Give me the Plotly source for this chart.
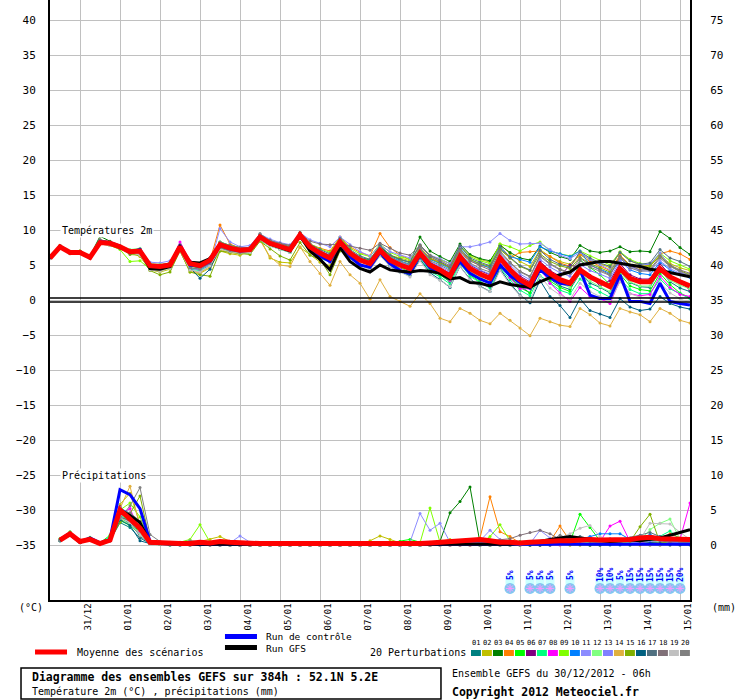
import pandas as pd
import plotly.graph_objects as go

# GEFS run of 30/12/2012 06h, 6-hourly steps up to 384h
run_start = pd.Timestamp("2012-12-30 06:00")
t_times = pd.date_range(run_start, periods=65, freq="6h")
p_times = t_times[1:]
day_ticks = pd.date_range("2012-12-31", "2013-01-15", freq="D")

# --- temperatures 2m (degC) ---
t_mean = [6.0, 7.6, 6.8, 6.8, 6.1, 8.2, 8.1, 7.6, 6.9, 7.0, 4.9, 4.8, 5.0, 7.6, 5.2, 4.9, 5.7, 7.9, 7.4, 7.1,
          7.2, 9.0, 8.1, 7.6, 7.2, 9.3, 7.6, 6.7, 6.0, 8.3, 6.7, 5.7, 5.2, 7.1, 5.7, 5.0, 4.5, 6.7, 5.0, 4.3,
          3.4, 6.2, 4.5, 3.7, 3.1, 6.0, 4.3, 2.9, 2.1, 5.0, 3.8, 2.9, 2.4, 4.3, 3.3, 2.6, 1.9, 4.5, 3.1, 2.6,
          2.6, 4.5, 3.3, 2.6, 2.0]
t_ctrl = [6.0, 7.7, 6.8, 6.9, 6.0, 8.3, 8.2, 7.7, 6.8, 7.2, 4.7, 4.6, 5.0, 7.8, 5.0, 4.8, 5.5, 7.8, 7.3, 7.0,
          7.1, 9.1, 8.0, 7.6, 7.1, 9.3, 7.5, 6.3, 5.5, 8.2, 6.2, 5.0, 4.7, 6.8, 5.2, 4.2, 3.8, 6.5, 4.6, 3.9,
          3.3, 5.5, 3.8, 3.0, 2.4, 5.0, 3.5, 2.5, 1.7, 4.3, 3.2, 2.4, 2.2, 4.3, 0.7, 0.2, 0.2, 3.6, -0.2, -0.2,
          -0.5, 2.4, -0.2, -0.5, -0.7]
t_gfs = [6.0, 7.6, 6.8, 6.8, 6.1, 8.2, 8.1, 7.6, 6.9, 7.0, 4.5, 4.4, 4.8, 7.6, 5.4, 5.3, 5.9, 7.9, 7.4, 7.1,
         7.2, 9.0, 8.0, 7.5, 7.0, 9.2, 7.0, 5.8, 4.3, 7.5, 5.5, 4.5, 4.0, 5.0, 4.3, 4.1, 4.0, 4.2, 4.1, 3.8,
         3.0, 3.2, 2.5, 2.4, 2.0, 2.6, 2.2, 2.0, 1.8, 2.6, 3.2, 3.6, 4.0, 5.0, 5.3, 5.5, 5.5, 5.2, 5.0, 4.8,
         4.4, 4.2, 3.9, 3.6, 3.3]

t01 = [6.0, 7.7, 6.7, 6.9, 6.0, 8.3, 8.0, 7.5, 6.7, 6.8, 4.6, 4.5, 4.7, 7.3, 4.6, 4.4, 5.2, 7.5, 7.0, 6.8,
       6.9, 9.3, 8.0, 7.3, 6.8, 9.0, 7.2, 6.0, 5.5, 8.4, 6.2, 5.0, 4.6, 6.5, 5.0, 4.3, 3.8, 6.2, 4.3, 3.6,
       2.6, 5.6, 3.9, 3.0, 2.4, 5.8, 3.6, 2.0, 1.0, 4.6, 3.0, 2.0, 1.5, 3.8, 2.4, 1.8, 1.0, 4.0, 2.5, 1.9,
       1.8, 4.3, 2.6, 1.7, 1.2]
t02 = [6.1, 7.8, 6.7, 7.0, 6.2, 8.1, 7.9, 7.7, 6.8, 6.2, 4.3, 4.0, 4.4, 7.0, 4.0, 3.8, 4.6, 7.0, 6.6, 6.4,
       7.0, 8.8, 6.0, 5.4, 5.3, 7.5, 6.5, 5.4, 4.9, 7.8, 6.5, 6.0, 5.8, 7.7, 6.4, 6.0, 5.6, 7.8, 6.3, 5.8,
       5.2, 7.7, 6.4, 5.8, 5.4, 8.0, 6.6, 5.5, 4.8, 7.2, 6.2, 5.5, 5.1, 6.6, 5.8, 5.2, 4.6, 6.8, 5.6, 5.0,
       4.8, 6.4, 5.2, 4.6, 4.2]
t03 = [6.0, 7.8, 6.9, 7.0, 6.3, 9.1, 8.4, 7.6, 6.7, 6.9, 4.4, 4.3, 4.8, 7.6, 4.9, 4.6, 5.8, 8.2, 7.6, 7.3,
       7.5, 9.3, 8.4, 7.9, 7.5, 9.5, 7.9, 7.0, 6.3, 8.6, 7.0, 6.1, 5.7, 7.6, 6.4, 5.8, 5.4, 9.0, 7.0, 6.2,
       5.5, 8.0, 6.5, 5.9, 5.6, 7.8, 6.8, 6.0, 5.7, 7.7, 6.8, 6.2, 5.8, 7.8, 7.0, 6.8, 7.0, 7.6, 6.9, 7.0,
       6.9, 9.8, 8.8, 7.5, 6.5]
t04 = [6.1, 7.6, 6.8, 6.8, 6.1, 8.6, 8.3, 7.4, 6.8, 6.9, 5.0, 4.7, 4.9, 7.7, 5.0, 4.7, 5.6, 10.7, 8.0, 7.4,
       7.5, 8.8, 8.2, 8.0, 7.8, 8.8, 8.0, 7.4, 7.0, 9.0, 7.6, 6.8, 6.3, 9.5, 7.5, 6.4, 5.8, 7.5, 6.0, 5.4,
       4.6, 7.0, 5.6, 5.0, 4.6, 7.4, 6.0, 6.8, 6.9, 7.0, 6.2, 5.3, 4.8, 6.5, 5.5, 4.8, 4.2, 6.4, 5.0, 4.6,
       5.0, 6.6, 7.0, 6.6, 5.8]
t05 = [6.0, 7.5, 6.9, 6.7, 6.2, 8.1, 8.2, 7.7, 7.1, 7.3, 5.1, 5.0, 5.3, 7.9, 5.5, 5.1, 6.0, 8.3, 7.8, 7.5,
       7.3, 9.2, 8.4, 7.4, 7.0, 9.6, 7.5, 6.3, 5.4, 8.0, 6.0, 5.1, 4.6, 6.8, 5.2, 4.6, 4.0, 6.3, 4.5, 3.6,
       2.7, 5.6, 3.6, 2.6, 2.0, 5.0, 3.3, 1.8, 1.0, 4.5, 2.7, 1.8, 1.2, 5.7, 4.7, 3.6, 2.2, 3.7, 2.0, 1.5,
       1.3, 3.8, 2.2, 1.0, 0.3]
t06 = [6.0, 7.6, 6.8, 6.8, 6.2, 8.2, 8.1, 7.6, 6.9, 7.0, 4.8, 4.6, 4.9, 7.5, 4.9, 4.6, 5.4, 7.7, 7.2, 6.9,
       7.2, 9.1, 8.0, 7.5, 7.1, 9.2, 7.6, 6.6, 5.9, 8.4, 6.8, 5.8, 5.3, 7.3, 6.0, 5.3, 4.8, 7.0, 5.4, 4.6,
       3.8, 6.6, 5.0, 4.2, 3.6, 6.4, 4.7, 3.4, 2.6, 5.5, 4.2, 3.4, 5.0, 4.6, 3.5, 2.0, 2.8, 5.2, 3.6, 3.0,
       3.0, 5.2, 3.6, 2.6, 1.4]
t07 = [6.0, 7.7, 6.7, 6.9, 6.2, 8.1, 7.9, 7.7, 6.9, 6.6, 4.5, 4.4, 4.7, 7.4, 4.4, 4.2, 5.0, 7.4, 6.9, 6.7,
       6.7, 8.5, 7.7, 7.2, 6.8, 8.8, 7.0, 6.0, 5.4, 7.6, 6.0, 5.0, 4.4, 6.4, 4.9, 4.2, 3.6, 5.9, 4.1, 3.3,
       2.3, 5.2, 3.4, 2.5, 1.7, 4.6, 2.9, 1.4, 0.6, 3.5, 2.4, 1.4, 0.9, 3.0, 1.9, 1.1, 0.4, 3.0, 1.5, 0.9,
       0.9, 3.0, 1.6, 0.9, 0.2]
t08 = [6.0, 7.6, 6.8, 6.8, 6.1, 8.2, 8.0, 7.6, 6.9, 7.1, 4.9, 4.9, 5.1, 8.3, 5.6, 5.2, 6.0, 7.8, 7.3, 7.0,
       7.0, 8.9, 8.0, 7.4, 7.0, 9.1, 7.3, 6.2, 5.4, 7.9, 6.2, 5.1, 4.5, 6.6, 5.1, 4.4, 3.9, 6.4, 4.7, 3.8,
       2.8, 5.8, 3.9, 3.2, 2.4, 5.4, 3.2, 1.6, 1.6, 4.5, 2.4, 1.0, -0.2, 1.8, 0.5, 0.2, -0.5, 2.8, 0.9, 0.6,
       0.8, 3.4, 1.8, 0.8, 0.5]
t09 = [6.0, 7.5, 6.9, 6.7, 6.2, 8.1, 7.8, 7.2, 5.5, 5.6, 4.4, 4.2, 4.5, 7.4, 4.8, 4.6, 5.5, 7.7, 7.2, 6.9,
       7.4, 9.2, 8.3, 7.9, 7.6, 9.6, 8.0, 7.3, 6.8, 8.9, 7.4, 6.6, 6.2, 8.0, 6.8, 6.2, 5.8, 7.8, 6.4, 5.8,
       5.2, 7.6, 6.2, 5.6, 5.2, 8.0, 7.6, 7.0, 7.8, 8.3, 7.0, 6.6, 6.3, 7.0, 6.3, 5.6, 5.0, 6.9, 5.8, 5.2,
       5.0, 6.7, 5.6, 5.0, 4.4]
t10 = [6.1, 7.7, 6.8, 6.9, 6.1, 8.5, 8.2, 7.5, 6.9, 7.0, 4.9, 4.8, 5.0, 7.6, 5.1, 4.8, 5.7, 7.9, 7.4, 7.1,
       7.3, 9.1, 8.2, 7.7, 7.3, 9.4, 7.8, 7.0, 6.4, 8.6, 7.0, 6.1, 5.6, 7.5, 6.2, 5.6, 5.1, 7.3, 5.8, 5.2,
       4.4, 7.4, 5.8, 5.1, 4.6, 7.4, 6.2, 5.8, 5.4, 7.6, 7.0, 6.6, 6.2, 7.0, 5.0, 4.4, 3.8, 5.6, 4.3, 3.8,
       3.6, 5.4, 4.3, 3.6, 3.2]
t11 = [6.0, 7.7, 6.8, 6.9, 6.1, 8.3, 8.1, 7.6, 7.0, 7.3, 5.4, 5.3, 5.6, 7.7, 4.3, 3.9, 5.0, 10.2, 8.3, 7.6,
       7.8, 9.4, 8.7, 8.2, 7.9, 9.6, 8.6, 8.1, 7.6, 9.0, 7.9, 6.9, 6.3, 7.8, 6.9, 6.4, 6.0, 7.6, 6.4, 5.9,
       5.2, 7.6, 7.6, 7.9, 8.3, 9.5, 8.5, 8.0, 8.1, 8.1, 7.2, 6.4, 5.9, 6.8, 5.8, 5.0, 4.3, 6.1, 4.8, 4.2,
       4.1, 5.6, 4.5, 3.8, 3.4]
t12 = [6.0, 7.6, 6.9, 6.8, 6.2, 8.2, 8.2, 7.8, 7.2, 7.4, 5.2, 5.1, 5.2, 7.8, 5.4, 5.0, 5.9, 8.1, 7.6, 7.3,
       7.0, 8.9, 8.0, 7.5, 7.1, 9.2, 7.4, 6.5, 5.8, 8.1, 6.5, 5.5, 5.0, 6.9, 5.5, 4.8, 4.2, 6.4, 4.6, 3.9,
       3.0, 5.8, 4.1, 3.2, 2.6, 5.6, 3.8, 2.4, 1.7, 4.6, 3.3, 2.4, 1.8, 3.8, 2.7, 1.9, 1.2, 4.0, 2.6, 2.0,
       2.0, 4.1, 2.8, 2.1, 1.6]
t13 = [6.0, 7.7, 6.7, 6.8, 6.1, 8.4, 8.0, 7.4, 6.6, 6.7, 4.5, 4.6, 4.8, 7.2, 4.5, 4.3, 5.1, 7.6, 7.1, 6.9,
       7.1, 9.0, 8.2, 7.7, 7.4, 9.3, 7.8, 6.9, 6.3, 8.5, 7.0, 6.0, 5.5, 7.4, 6.0, 5.4, 4.9, 7.1, 5.5, 4.8,
       4.0, 6.7, 5.1, 4.3, 3.7, 6.6, 5.0, 3.7, 2.9, 5.8, 4.7, 3.9, 3.4, 5.1, 4.2, 3.7, 3.1, 5.6, 4.4, 5.0,
       5.1, 6.7, 4.9, 4.0, 3.3]
t14 = [6.0, 7.8, 6.6, 7.0, 6.3, 8.0, 7.9, 7.8, 7.0, 6.5, 4.4, 4.2, 4.6, 7.2, 4.2, 3.9, 4.8, 7.2, 6.8, 6.6,
       6.8, 8.5, 6.2, 5.0, 4.8, 7.6, 5.5, 3.8, 2.1, 5.5, 3.6, 2.4, 0.1, 2.9, 0.5, -0.2, -0.9, 0.9, -0.5, -2.6,
       -3.1, -1.2, -1.9, -2.9, -3.4, -1.9, -2.9, -4.0, -5.1, -2.6, -3.1, -3.6, -3.8, -1.2, -2.1, -3.3, -3.7,
       -1.2, -1.7, -2.1, -3.1, -1.2, -1.9, -2.9, -3.3]
t15 = [6.0, 7.6, 6.7, 6.8, 6.0, 8.0, 7.8, 7.4, 6.5, 6.4, 4.2, 3.6, 4.0, 7.0, 4.0, 3.6, 3.4, 7.0, 6.8, 6.6,
       6.5, 8.4, 7.3, 6.3, 5.7, 8.2, 6.4, 5.8, 3.6, 7.0, 6.6, 6.0, 5.6, 7.4, 6.3, 5.8, 5.3, 7.4, 5.9, 5.3,
       4.6, 7.2, 5.8, 5.2, 4.8, 7.2, 6.0, 4.8, 4.2, 6.6, 5.5, 4.9, 4.5, 6.1, 5.2, 4.6, 4.0, 6.2, 5.0, 4.7,
       4.9, 6.3, 4.9, 4.2, 3.6]
t16 = [6.0, 7.7, 6.7, 6.9, 6.0, 8.3, 8.0, 7.5, 6.7, 6.8, 4.6, 4.5, 4.7, 7.3, 4.6, 3.1, 4.4, 7.5, 7.0, 6.8,
       6.9, 8.8, 8.0, 7.5, 7.0, 9.0, 7.2, 6.3, 5.6, 8.0, 6.2, 5.0, 4.6, 6.5, 4.8, 4.0, 3.5, 5.8, 3.9, 2.9,
       1.8, 4.8, 3.0, 2.0, 1.2, 4.5, 2.4, 0.7, -0.4, 2.8, 0.5, -0.8, -2.5, 0.2, -1.5, -2.0, -2.5, 0.2, -1.0,
       -1.5, -1.3, 0.5, -0.5, -1.0, -1.3]
t17 = [6.1, 7.6, 6.8, 6.8, 6.1, 8.6, 8.3, 7.4, 6.8, 6.9, 5.0, 4.7, 4.9, 7.7, 5.0, 4.7, 5.6, 8.0, 7.3, 7.0,
       7.5, 9.4, 8.5, 8.0, 7.6, 9.6, 8.0, 7.2, 6.6, 8.8, 7.2, 6.3, 5.8, 7.8, 6.4, 5.8, 5.4, 7.9, 6.2, 5.5,
       4.7, 7.8, 6.0, 5.4, 4.9, 7.7, 6.1, 4.9, 4.3, 7.1, 5.8, 5.1, 4.7, 6.9, 6.0, 5.3, 4.8, 6.8, 5.6, 5.1,
       5.3, 7.2, 6.0, 5.5, 4.8]
t18 = [6.0, 7.5, 6.9, 6.7, 6.2, 8.1, 8.2, 7.7, 7.1, 7.3, 5.1, 5.0, 5.3, 7.9, 5.5, 5.1, 6.0, 8.3, 7.8, 7.5,
       7.5, 9.2, 8.5, 8.1, 7.8, 9.5, 8.4, 8.0, 7.9, 8.0, 7.7, 7.4, 7.1, 8.1, 7.4, 6.7, 6.4, 7.8, 6.4, 5.7,
       4.9, 7.3, 5.6, 4.9, 4.3, 7.0, 5.4, 4.1, 3.4, 6.4, 5.2, 4.4, 3.9, 6.0, 5.0, 4.3, 3.6, 6.2, 4.9, 4.3,
       4.4, 6.2, 5.0, 4.3, 3.8]
t19 = [5.9, 7.7, 6.6, 6.9, 6.2, 8.0, 7.8, 7.6, 6.8, 6.4, 4.3, 4.1, 4.5, 7.1, 4.3, 4.0, 4.9, 7.3, 6.9, 6.7,
       6.8, 8.6, 7.7, 7.2, 6.8, 8.9, 7.1, 6.1, 5.4, 7.7, 6.0, 5.0, 4.3, 6.3, 4.8, 4.0, 3.3, 5.6, 3.6, 2.8,
       1.9, 4.8, 2.9, 1.9, 1.2, 4.2, 2.2, 0.6, -0.2, 3.4, 1.7, 0.7, 0.1, 2.4, 1.2, 0.5, -0.2, 2.6, 0.9, 0.4,
       0.3, 2.5, 1.0, 0.2, -0.5]
t20 = [6.0, 7.7, 6.7, 6.9, 6.0, 8.3, 8.0, 7.5, 6.7, 6.8, 4.6, 4.5, 4.7, 7.3, 4.6, 4.4, 5.2, 7.5, 7.0, 6.8,
       7.4, 9.5, 8.4, 7.9, 7.5, 9.6, 7.9, 6.9, 6.3, 8.6, 7.0, 6.0, 5.5, 7.5, 6.1, 5.5, 5.0, 7.4, 5.6, 5.0,
       4.2, 7.0, 5.3, 4.5, 4.0, 6.8, 5.3, 4.0, 3.3, 6.2, 5.1, 4.3, 3.8, 5.6, 4.7, 4.1, 3.5, 6.0, 4.6, 4.1,
       4.2, 6.0, 4.8, 4.1, 3.5]

# --- precipitation (mm per 6h), from +6h ---
p_mean = [0.7, 1.6, 0.5, 0.8, 0.2, 0.7, 5.0, 3.6, 2.4, 0.4, 0.3, 0.3, 0.2, 0.2, 0.4, 0.3,
          0.5, 0.4, 0.3, 0.2, 0.2, 0.2, 0.2, 0.1, 0.1, 0.1, 0.1, 0.1, 0.1, 0.1, 0.1, 0.2,
          0.2, 0.1, 0.1, 0.2, 0.2, 0.3, 0.4, 0.5, 0.5, 0.6, 0.8, 0.6, 0.4, 0.4, 0.3, 0.4,
          0.5, 0.5, 0.6, 0.6, 0.7, 0.8, 0.7, 0.7, 0.8, 0.8, 1.0, 1.1, 0.9, 0.9, 0.9, 0.8]
p_ctrl = [0.8, 1.7, 0.4, 1.0, 0.3, 0.8, 7.9, 7.2, 5.2, 0.5, 0.2, 0.1, 0.1, 0.1, 0.1, 0.1,
          0.1, 0.0, 0.0, 0.0, 0.0, 0.0, 0.0, 0.0, 0.0, 0.0, 0.0, 0.0, 0.0, 0.0, 0.0, 0.0,
          0.0, 0.0, 0.0, 0.0, 0.0, 0.0, 0.0, 0.0, 0.0, 0.0, 0.0, 0.0, 0.0, 0.0, 0.0, 0.0,
          0.0, 0.0, 0.0, 0.0, 0.1, 0.0, 0.0, 0.0, 0.0, 0.0, 0.0, 0.0, 0.0, 0.0, 0.1, 0.1]
p_gfs = [0.7, 1.5, 0.4, 0.9, 0.2, 0.7, 5.0, 4.2, 3.2, 0.3, 0.2, 0.1, 0.1, 0.1, 0.1, 0.1,
         0.1, 0.0, 0.0, 0.0, 0.0, 0.0, 0.0, 0.0, 0.0, 0.0, 0.0, 0.0, 0.0, 0.0, 0.0, 0.0,
         0.0, 0.0, 0.0, 0.0, 0.0, 0.0, 0.0, 0.0, 0.0, 0.0, 0.0, 0.0, 0.0, 0.1, 0.2, 0.3,
         0.5, 0.8, 1.0, 1.2, 1.0, 0.8, 0.6, 0.5, 0.6, 0.7, 0.6, 0.8, 1.0, 1.4, 1.8, 2.2]

p01 = [0.6, 1.4, 0.5, 0.7, 0.2, 0.6, 3.2, 2.5, 1.0, 0.2, 0.1, 0.1, 0, 0, 0.2, 0.1,
       0.3, 0.2, 0, 0, 0, 0, 0, 0, 0, 0, 0, 0, 0, 0, 0, 0,
       0, 0, 0, 0, 0, 0.2, 0.3, 0.5, 0.4, 0.3, 0.2, 0, 0, 0.1, 0.3, 0.2,
       0, 0, 0.3, 0.5, 0.2, 0, 0, 0.2, 0.5, 0.3, 0.2, 0, 0, 0.3, 0.6, 0.4]
p02 = [0.7, 1.5, 0.6, 0.9, 0.2, 0.6, 5.8, 7.4, 3.0, 0.3, 0.2, 0.2, 0.1, 0.1, 0.5, 0.8,
       1.2, 0.5, 0.2, 0, 0, 0, 0, 0, 0, 0, 0, 0, 0, 0, 0, 0.6,
       1.3, 0.8, 0.3, 0, 0, 0, 0.5, 0.8, 0.3, 0, 0, 0, 0, 0, 0.2, 0.3,
       0.4, 0.6, 0.8, 0.3, 0.2, 0, 0, 0.3, 0.2, 0, 0, 0.5, 0.8, 0.4, 0.2, 0.2]
p03 = [0.8, 1.8, 0.4, 0.9, 0.2, 0.6, 4.0, 3.0, 2.0, 0.3, 0.2, 0.1, 0.1, 0, 0.2, 0.1,
       0.3, 0.2, 0.1, 0, 0, 0, 0, 0, 0, 0, 0, 0, 0, 0, 0, 0,
       0, 0, 0, 0, 0, 0, 0.5, 4.6, 6.2, 8.3, 0.3, 0.2, 0.1, 0, 0, 0,
       0, 0.2, 0.4, 0.2, 0.6, 1.0, 0.5, 0.3, 0.4, 0.8, 0.5, 0.3, 0.2, 0.1, 0.3, 0.4]
p04 = [0.7, 1.6, 0.5, 0.8, 0.2, 0.7, 4.5, 3.2, 1.8, 0.3, 0.2, 0.4, 0.2, 0.1, 0.3, 0.2,
       0.2, 0.1, 0, 0, 0, 0, 0, 0, 0, 0, 0, 0, 0, 0, 0, 0,
       0, 0, 0.2, 0.3, 0, 0, 0, 0, 0, 0, 1.0, 6.9, 1.9, 1.2, 0.3, 0,
       0.2, 0.5, 2.7, 0.6, 0.2, 0.3, 0.5, 0.2, 0.4, 0.3, 0.2, 0.5, 0.8, 1.6, 1.0, 0.5]
p05 = [0.9, 1.9, 0.6, 1.0, 0.3, 1.4, 3.5, 2.8, 1.5, 0.2, 0.1, 0, 0, 0.2, 0.4, 0.2,
       0, 0, 0, 0, 0, 0, 0, 0, 0, 0, 0, 0, 0, 0, 0, 0,
       0, 0.3, 0.5, 0.8, 0.4, 0, 0, 0, 0, 0, 0, 0, 0.3, 0.2, 0.5, 0.2,
       0.3, 0.5, 0.8, 0.4, 4.4, 2.5, 0.6, 0.3, 0.2, 0.1, 0.3, 0.5, 0.3, 0.2, 0.4, 0.3]
p06 = [0.7, 1.6, 0.4, 0.8, 0.2, 0.7, 5.5, 4.0, 2.8, 0.4, 0.3, 0.2, 0.1, 0, 0.1, 0.1,
       0, 0, 0, 0, 0, 0, 0, 0, 0, 0, 0, 0, 0, 0, 0, 0,
       0, 0, 0, 0, 0, 0, 0, 0, 0, 0, 0, 0, 0.2, 0.3, 0.2, 0,
       0, 0.2, 0.5, 0.8, 0.6, 0.3, 0.2, 0.3, 0.5, 0.4, 0.3, 0.6, 0.8, 1.0, 0.6, 0.4]
p07 = [0.6, 1.5, 0.5, 0.8, 0.3, 1.2, 4.2, 3.5, 1.4, 0.2, 0.1, 0, 0, 0, 0.3, 0.2,
       0.2, 0, 0, 0, 0, 0, 0, 0, 0, 0, 0, 0, 0, 0, 0, 0,
       0, 0, 0, 0, 0, 0, 0.3, 0.6, 0.3, 0.2, 0, 0, 0, 0, 0.3, 0.5,
       0.2, 0.3, 0.4, 0.3, 0.2, 0.4, 0.5, 0.3, 0.2, 0.3, 0.2, 0.5, 1.2, 2.0, 0.8, 0.4]
p08 = [0.7, 1.7, 0.5, 0.9, 0.2, 0.6, 4.4, 5.2, 2.0, 0.3, 0.2, 0.2, 0, 0, 0.2, 0.2,
       0.4, 0.2, 0, 0, 0, 0, 0, 0, 0, 0, 0, 0, 0, 0, 0, 0,
       0, 0, 0, 0, 0, 0, 0, 0, 0, 0, 0, 0, 0, 0, 0.2, 0.3,
       0.2, 0, 0, 0.3, 0.2, 0.4, 0.5, 2.7, 3.4, 0.5, 0.3, 0.2, 0.3, 0.5, 0.8, 6.0]
p09 = [0.8, 1.8, 0.6, 1.1, 0.3, 0.9, 5.0, 6.0, 4.0, 0.5, 0.3, 0.2, 0.4, 0.8, 2.9, 0.4,
       0.3, 0.2, 0.1, 0, 0, 0, 0, 0, 0, 0, 0, 0, 0, 0, 0, 0,
       0, 0, 0, 0, 0.3, 5.3, 0.4, 0.2, 0.2, 0.3, 0.2, 1.2, 2.9, 0.6, 0.3, 0.2,
       0.4, 0.5, 0.6, 0.4, 0.3, 0.2, 0.3, 0.4, 0.5, 0.3, 0.4, 0.6, 0.4, 0.3, 0.5, 0.6]
p10 = [0.7, 1.6, 0.5, 0.9, 0.2, 0.7, 5.3, 4.5, 3.0, 0.6, 0.3, 0.2, 0.1, 0.1, 0.1, 0,
       0, 0, 0, 0, 0, 0, 0, 0, 0, 0, 0, 0, 0, 0, 0, 0,
       0, 0, 0, 0, 0, 0, 0, 0.2, 0.3, 0.5, 0.4, 0.2, 0.1, 0, 0, 0,
       0.1, 0.2, 0.3, 0.5, 0.8, 1.2, 1.6, 1.6, 1.6, 0.8, 0.6, 1.5, 0.8, 0.5, 0.4, 0.6]
p11 = [0.6, 1.5, 0.6, 0.8, 0.3, 0.6, 4.2, 3.0, 1.6, 0.3, 0.2, 0.1, 0.2, 0.4, 0.3, 0.2,
       0.6, 0.3, 1.3, 0.4, 0.2, 0, 0, 0, 0, 0, 0, 0, 0, 0, 0, 0,
       0, 0, 0, 0.4, 4.5, 2.1, 3.1, 0.4, 0.2, 0.4, 0.6, 2.1, 0.8, 0.3, 0.2, 0.2,
       2.1, 1.0, 0.4, 0.2, 0.3, 0.4, 0.2, 0.1, 0.2, 0.3, 0.4, 0.5, 0.6, 0.4, 0.3, 0.2]
p12 = [0.8, 1.8, 0.5, 0.9, 0.2, 1.0, 3.8, 2.9, 1.5, 0.2, 0.1, 0.2, 0.3, 0.6, 0.4, 0.2,
       0.2, 0.1, 0, 0, 0, 0, 0, 0, 0, 0, 0, 0, 0, 0, 0, 0,
       0, 0, 0, 0, 0, 0, 0.2, 0.3, 0.2, 0.1, 0, 0, 0, 0.2, 0.3, 0.2,
       0.2, 0.3, 0.3, 0.2, 0.2, 0.4, 0.5, 0.3, 0.3, 0.4, 0.6, 2.2, 3.1, 3.7, 0.8, 0.5]
p13 = [0.7, 1.6, 0.5, 0.8, 0.2, 0.7, 4.6, 3.8, 2.2, 0.3, 0.2, 0.1, 0.1, 0.1, 0.1, 0.1,
       0, 0, 0, 0, 0, 0, 0, 0, 0, 0, 0, 0, 0, 0, 0, 0,
       0, 0, 0, 0, 0, 0, 0, 0, 0.2, 0.3, 0.2, 0.3, 0.5, 0.4, 0.2, 0.1,
       0.3, 0.4, 0.3, 0.2, 0.5, 0.9, 0.8, 0.6, 0.5, 0.4, 0.6, 0.9, 1.2, 0.8, 0.5, 0.4]
p14 = [0.6, 1.5, 0.5, 0.8, 0.2, 0.8, 5.2, 8.4, 2.6, 0.3, 0.2, 0.1, 0.1, 0, 0.2, 0.1,
       0, 0, 0, 0, 0, 0, 0, 0, 0, 0, 0, 0, 0, 0, 0, 0,
       0, 0, 0, 0, 0, 0, 0, 0, 0, 0, 0, 0, 0, 0, 0, 0,
       0, 0, 0, 0, 0, 0, 0, 0.2, 0.3, 0.2, 0, 0, 0, 0, 0, 0.1]
p15 = [0.7, 1.6, 0.6, 0.9, 0.3, 0.8, 3.2, 4.5, 7.0, 0.6, 0.3, 0.1, 0.2, 0.3, 0.2, 0.1,
       0.2, 0, 0, 0, 0, 0, 0, 0, 0, 0, 0, 0, 0, 0, 0, 0,
       0, 0, 0, 0, 0, 0, 0.2, 0.4, 0.2, 0.1, 0, 0, 0, 0, 0, 0,
       0.2, 0.3, 0.2, 0, 0, 0, 0.2, 0.3, 0.3, 0.5, 2.6, 4.4, 0.3, 0.2, 0.1, 0.2]
p16 = [0.6, 1.4, 0.4, 0.8, 0.2, 0.6, 3.6, 2.8, 0.6, 0.2, 0.1, 0, 0, 0, 0, 0,
       0, 0, 0, 0, 0, 0, 0, 0, 0, 0, 0, 0, 0, 0, 0, 0,
       0, 0, 0, 0, 0, 0, 0.1, 0.2, 0.3, 0.2, 0, 0, 0, 0, 0, 0,
       0, 0, 0.2, 0.3, 0.1, 0, 0, 0, 0, 0, 0.1, 0.3, 0.2, 0, 0, 0]
p17 = [0.8, 1.6, 0.5, 0.8, 0.2, 0.7, 4.0, 3.4, 1.2, 0.3, 0.2, 0.1, 0.1, 0.1, 0, 0,
       0, 0, 0, 0, 0, 0, 0, 0, 0, 0, 0, 0, 0, 0, 0, 0,
       0, 0, 0, 0, 0, 0.2, 0.4, 0.5, 0.4, 0.6, 0.9, 0.7, 0.5, 0.4, 0.3, 0.3,
       0.4, 0.5, 0.6, 0.9, 1.2, 0.9, 0.6, 0.5, 0.8, 1.0, 1.4, 1.8, 1.2, 0.8, 0.6, 0.5]
p18 = [0.7, 1.6, 0.4, 0.9, 0.2, 0.7, 5.0, 4.6, 3.4, 0.4, 0.3, 0.1, 0.1, 0.1, 0.1, 0,
       0, 0, 0, 0, 0, 0, 0, 0, 0, 0, 0, 0, 0, 0, 0, 0,
       0, 0, 0, 0, 0, 0, 0, 0, 0, 0.2, 0.3, 0.6, 0.7, 0.9, 1.4, 1.8,
       2.1, 1.6, 0.8, 0.6, 0.5, 0.6, 0.8, 0.9, 0.7, 0.6, 0.5, 0.8, 0.6, 0.4, 0.5, 0.6]
p19 = [0.7, 1.5, 0.5, 0.8, 0.2, 0.6, 3.9, 3.2, 1.4, 0.2, 0.1, 0, 0, 0, 0, 0,
       0, 0, 0, 0, 0, 0, 0, 0, 0, 0, 0, 0, 0, 0, 0, 0,
       0, 0, 0, 0, 0, 0, 0, 0, 0, 0, 0, 0, 0, 0, 0, 0.2,
       0.4, 0.6, 1.0, 1.6, 2.4, 2.8, 1.2, 0.6, 0.4, 0.6, 0.8, 3.1, 3.1, 3.0, 1.8, 0.8]
p20 = [0.7, 1.6, 0.5, 0.9, 0.2, 0.7, 3.8, 5.6, 8.2, 1.5, 0.5, 0.3, 0.4, 0.6, 0.5, 0.3,
       0.4, 0.2, 0, 0, 0, 0, 0, 0, 0, 0, 0, 0, 0, 0, 0, 0,
       0, 0, 0, 0, 0.2, 0.4, 0.3, 0.2, 0.2, 0.4, 0.3, 0.5, 0.4, 0.3, 0.2, 0.2,
       0.4, 0.6, 1.4, 0.8, 0.6, 0.5, 0.3, 0.4, 0.3, 0.8, 1.3, 1.2, 1.0, 0.8, 0.4, 0.3]

# snow probability markers (time step, %)
snow_times = pd.to_datetime(["2013-01-10 18:00", "2013-01-11 06:00", "2013-01-11 12:00", "2013-01-11 18:00",
                             "2013-01-12 06:00", "2013-01-13 00:00", "2013-01-13 06:00", "2013-01-13 12:00",
                             "2013-01-13 18:00", "2013-01-14 00:00", "2013-01-14 06:00", "2013-01-14 12:00",
                             "2013-01-14 18:00", "2013-01-15 00:00"])
snow_pct = [5, 5, 5, 5, 5, 10, 10, 5, 15, 15, 15, 15, 15, 20]

pert_colors = ["#008080", "#C0C000", "#008000", "#FF8000", "#00FF00", "#800080", "#00FF80",
               "#FF00FF", "#80FF00", "#0080FF", "#8C8CFF", "#80FF80", "#8080FF", "#E0B040",
               "#80B000", "#006080", "#507080", "#807078", "#C0C0C0", "#808080"]
t_perts = [t01, t02, t03, t04, t05, t06, t07, t08, t09, t10,
           t11, t12, t13, t14, t15, t16, t17, t18, t19, t20]
p_perts = [p01, p02, p03, p04, p05, p06, p07, p08, p09, p10,
           p11, p12, p13, p14, p15, p16, p17, p18, p19, p20]

FONT = "DejaVu Sans Mono"
YMAX = 42.857  # 0 degC sits in the middle, 7 px per unit

fig = go.Figure()

# perturbations
for col, tv, pv in zip(pert_colors, t_perts, p_perts):
    fig.add_trace(go.Scatter(x=t_times, y=tv, mode="lines+markers",
                             line=dict(color=col, width=1), marker=dict(color=col, size=3)))
    fig.add_trace(go.Scatter(x=p_times, y=pv, yaxis="y2", mode="lines+markers",
                             line=dict(color=col, width=1), marker=dict(color=col, size=3)))

# control, GFS, mean
for tv, pv, col, w in [(t_ctrl, p_ctrl, "#0000FF", 3), (t_gfs, p_gfs, "#000000", 3),
                       (t_mean, p_mean, "#FF0000", 5)]:
    fig.add_trace(go.Scatter(x=t_times, y=tv, mode="lines", line=dict(color=col, width=w)))
    fig.add_trace(go.Scatter(x=p_times, y=pv, yaxis="y2", mode="lines", line=dict(color=col, width=w)))

# snow markers
n_snow = len(snow_times)
fig.add_trace(go.Scatter(x=snow_times, y=[-40.0] * n_snow, mode="markers", cliponaxis=False,
                         marker=dict(symbol="square", size=9, color="#CCFFFF")))
fig.add_trace(go.Scatter(x=snow_times, y=[-41.2] * n_snow, mode="markers", cliponaxis=False,
                         marker=dict(symbol="circle", size=11, color="#80C8F0", line=dict(width=0))))
fig.add_trace(go.Scatter(x=snow_times, y=[-41.2] * n_snow, mode="markers", cliponaxis=False,
                         marker=dict(symbol="asterisk-open", size=7,
                                     line=dict(color="#D8F0FF", width=1))))

MID = dict(showarrow=False, yanchor="middle")
ann = []
for st, pc in zip(snow_times, snow_pct):
    ann.append(dict(x=st, y=-39.3, xref="x", yref="y", text="<b>%d%%</b>" % pc, xanchor="center",
                    textangle=-90, font=dict(family=FONT, size=8, color="#0000FF"), **MID))

for d in day_ticks:
    ann.append(dict(x=d, y=0, xref="x", yref="paper", text=d.strftime("%d/%m"), showarrow=False,
                    textangle=-90, xanchor="center", yanchor="top", xshift=7, yshift=-2,
                    font=dict(family=FONT, size=9, color="black")))

# texts
ann += [
    dict(x=0.0156, y=10, xref="paper", yref="y", text="Températures 2m", xanchor="left",
         bgcolor="white", font=dict(family=FONT, size=10, color="black"), **MID),
    dict(x=0.0156, y=-25, xref="paper", yref="y", text="Précipitations", xanchor="left",
         bgcolor="white", font=dict(family=FONT, size=10, color="black"), **MID),
    dict(x=-0.0297, y=-0.012, xref="paper", yref="paper", text="(°C)", xanchor="center",
         font=dict(family=FONT, size=10, color="#000000"), **MID),
    dict(x=1.053, y=-0.012, xref="paper", yref="paper", text="(mm)", xanchor="center",
         font=dict(family=FONT, size=10, color="#000000"), **MID),
    dict(x=0.039, y=-0.0867, xref="paper", yref="paper", text="Moyenne des scénarios", xanchor="left",
         font=dict(family=FONT, size=10, color="black"), **MID),
    dict(x=0.334, y=-0.0600, xref="paper", yref="paper", text="Run de contrôle", xanchor="left",
         height=9, font=dict(family=FONT, size=9.5, color="black"), **MID),
    dict(x=0.334, y=-0.0800, xref="paper", yref="paper", text="Run GFS", xanchor="left",
         height=9, font=dict(family=FONT, size=9.5, color="black"), **MID),
    dict(x=0.4975, y=-0.0867, xref="paper", yref="paper", text="20 Perturbations", xanchor="left",
         font=dict(family=FONT, size=10, color="black"), **MID),
    dict(x=-0.0310, y=-0.128, xref="paper", yref="paper", xanchor="left",
         text="<b>Diagramme des ensembles GEFS sur 384h : 52.1N 5.2E</b>",
         font=dict(family=FONT, size=11.5, color="black"), **MID),
    dict(x=-0.0310, y=-0.153, xref="paper", yref="paper", xanchor="left",
         text="Température 2m (°C) , précipitations (mm)",
         font=dict(family=FONT, size=10, color="black"), **MID),
    dict(x=0.625, y=-0.1217, xref="paper", yref="paper", xanchor="left",
         text="Ensemble GEFS du 30/12/2012 - 06h",
         font=dict(family=FONT, size=10, color="black"), **MID),
    dict(x=0.625, y=-0.1533, xref="paper", yref="paper", xanchor="left",
         text="<b>Copyright 2012 Meteociel.fr</b>",
         font=dict(family=FONT, size=11.5, color="black"), **MID),
]

shapes = [
    dict(type="line", xref="paper", yref="y", x0=0, x1=1, y0=0.28, y1=0.28, line=dict(color="black", width=1.5)),
    dict(type="line", xref="paper", yref="y", x0=0, x1=1, y0=-0.28, y1=-0.28, line=dict(color="black", width=1.5)),
    dict(type="line", xref="paper", yref="paper", x0=-0.0234, x1=0.0266, y0=-0.0867, y1=-0.0867,
         line=dict(color="#FF0000", width=5)),
    dict(type="line", xref="paper", yref="paper", x0=0.2734, x1=0.3234, y0=-0.0608, y1=-0.0608,
         line=dict(color="#0000FF", width=5)),
    dict(type="line", xref="paper", yref="paper", x0=0.2734, x1=0.3234, y0=-0.0792, y1=-0.0792,
         line=dict(color="#000000", width=5)),
    dict(type="rect", xref="paper", yref="paper", x0=-0.0453, x1=0.6109, y0=-0.1133, y1=-0.165,
         line=dict(color="black", width=1.5)),
]

# perturbation colour boxes
box_w = 11 / 640
for i, col in enumerate(pert_colors):
    x0 = (471 - 50) / 640 + i * box_w
    shapes.append(dict(type="rect", xref="paper", yref="paper", x0=x0, x1=x0 + box_w * 0.9,
                       y0=-0.0833, y1=-0.0933, fillcolor=col, line=dict(width=0)))
    ann.append(dict(x=x0 + box_w * 0.45, y=-0.0717, xref="paper", yref="paper", text="%02d" % (i + 1),
                    xanchor="center", font=dict(family=FONT, size=7, color="black"), **MID))

fig.update_layout(
    width=740, height=700, margin=dict(l=50, r=50, t=0, b=100),
    plot_bgcolor="white", paper_bgcolor="white", showlegend=False,
    xaxis=dict(type="date", range=[t_times[0], t_times[-1]], tickvals=day_ticks, showticklabels=False,
               showgrid=True, gridcolor="#C0C0C0", gridwidth=1, zeroline=False,
               showline=True, linecolor="black", linewidth=2, ticks=""),
    yaxis=dict(range=[-YMAX, YMAX], tickvals=list(range(-35, 41, 5)), showgrid=True, gridcolor="#C0C0C0",
               zeroline=False, showline=True, linecolor="black", linewidth=2, ticks="",
               ticklabelstandoff=10, tickfont=dict(family=FONT, size=11, color="black")),
    yaxis2=dict(range=[-YMAX + 35, YMAX + 35], tickvals=list(range(0, 76, 5)), overlaying="y", side="right",
                showgrid=False, zeroline=False, showline=True, linecolor="black", linewidth=2, ticks="",
                ticklabelstandoff=16, tickfont=dict(family=FONT, size=11, color="black")),
    shapes=shapes, annotations=ann,
)

fig.write_html("out.html", config={"displayModeBar": False},
               post_script="document.body.style.margin='0';")
